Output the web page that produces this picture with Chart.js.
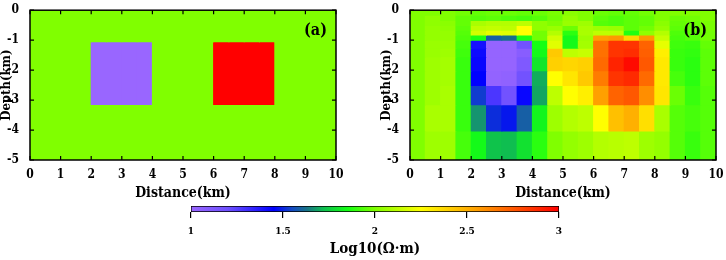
<!DOCTYPE html>
<html>
<head>
<meta charset="utf-8">
<script src="https://cdn.jsdelivr.net/npm/chart.js@4.4.1/dist/chart.umd.min.js"></script>
<style>
  html, body { margin: 0; padding: 0; background: #fff; }
  #wrap { position: relative; width: 726px; height: 260px; overflow: hidden; }
  canvas { position: absolute; }
</style>
</head>
<body>
<div id="wrap">
  <canvas id="chartA" style="left:0;top:0" width="362" height="206"></canvas>
  <canvas id="chartB" style="left:380px;top:0" width="346" height="206"></canvas>
  <canvas id="colorBar" style="left:150px;top:196px" width="450" height="64"></canvas>
</div>
<script>
// Центры столбцов сетки (км)
const distanceCenters = [0.25, 0.75, 1.25, 1.75, 2.25, 2.75, 3.25, 3.75, 4.25, 4.75,
  5.25, 5.75, 6.25, 6.75, 7.25, 7.75, 8.25, 8.75, 9.25, 9.75];

// (a) истинная модель: границы слоёв и log10(сопротивления)
const modelEdges = [0, -1.05, -3.15, -5];
const modelTop = [2, 2, 2, 2, 2, 2, 2, 2, 2, 2, 2, 2, 2, 2, 2, 2, 2, 2, 2, 2];
const modelMid = [2, 2, 2, 2, 1, 1, 1, 1, 2, 2, 2, 2, 3, 3, 3, 3, 2, 2, 2, 2];
const modelBot = [2, 2, 2, 2, 2, 2, 2, 2, 2, 2, 2, 2, 2, 2, 2, 2, 2, 2, 2, 2];

// (b) результат инверсии: границы слоёв и log10(сопротивления)
const invEdges = [0, -0.17, -0.34, -0.51, -0.67, -0.83, -1.0, -1.27, -1.55, -2.02, -2.51, -3.16, -4.03, -5.0];
const inv00 = [2.0, 2.0, 2.0, 1.98, 1.96, 1.97, 1.97, 1.96, 1.97, 1.99, 2.02, 2.0, 1.97, 1.96, 1.96, 1.98, 2.0, 2.0, 2.0, 2.0];
const inv01 = [2.0, 2.03, 2.0, 1.96, 1.94, 1.95, 1.93, 1.92, 1.94, 1.98, 2.04, 2.0, 1.95, 1.93, 1.95, 1.96, 2.0, 1.97, 1.98, 2.0];
const inv02 = [2.0, 2.03, 2.02, 1.96, 2.08, 2.1, 2.1, 2.12, 2.03, 2.0, 2.05, 2.06, 1.94, 1.93, 1.95, 1.96, 2.02, 1.96, 1.97, 1.99];
const inv03 = [2.0, 2.04, 2.03, 1.95, 2.12, 2.13, 2.12, 2.25, 2.03, 2.05, 1.97, 2.08, 2.06, 2.05, 1.95, 1.98, 2.04, 1.95, 1.96, 1.99];
const inv04 = [2.0, 2.04, 2.04, 1.94, 2.16, 2.2, 2.19, 2.25, 1.98, 2.1, 1.88, 2.08, 2.12, 2.12, 1.87, 2.03, 2.1, 1.93, 1.95, 1.98];
const inv05 = [2.0, 2.04, 2.04, 1.93, 1.86, 1.59, 1.62, 1.86, 1.98, 2.16, 1.84, 2.06, 2.55, 2.57, 2.38, 2.57, 2.14, 1.92, 1.94, 1.98];
const inv06 = [2.0, 2.05, 2.05, 1.92, 1.4, 1.02, 1.02, 1.18, 1.85, 2.19, 1.84, 2.07, 2.68, 2.85, 2.85, 2.72, 2.2, 1.91, 1.9, 1.96];
const inv07 = [2.0, 2.05, 2.06, 1.91, 1.42, 1.02, 1.02, 1.08, 1.84, 2.42, 2.12, 2.14, 2.68, 2.85, 2.87, 2.73, 2.3, 1.9, 1.89, 1.95];
const inv08 = [2.0, 2.06, 2.07, 1.9, 1.43, 1.02, 1.02, 1.12, 1.8, 2.4, 2.38, 2.4, 2.7, 2.9, 2.97, 2.75, 2.32, 1.9, 1.88, 1.95];
const inv09 = [2.0, 2.06, 2.07, 1.9, 1.45, 1.03, 1.04, 1.18, 1.7, 2.25, 2.33, 2.42, 2.65, 2.85, 2.88, 2.7, 2.32, 1.92, 1.88, 1.95];
const inv10 = [2.0, 2.06, 2.08, 1.9, 1.53, 1.28, 1.18, 1.43, 1.69, 2.12, 2.25, 2.3, 2.55, 2.72, 2.75, 2.6, 2.33, 1.97, 1.9, 1.94];
const inv11 = [2.0, 2.08, 2.08, 1.9, 1.67, 1.51, 1.48, 1.59, 1.83, 2.06, 2.1, 2.12, 2.25, 2.45, 2.5, 2.35, 2.08, 1.94, 1.92, 1.94];
const inv12 = [2.0, 2.06, 2.06, 1.92, 1.84, 1.73, 1.72, 1.79, 1.88, 2.0, 2.04, 2.06, 2.1, 2.11, 2.12, 2.06, 2.04, 1.94, 1.9, 1.94];

// Шкала цвета
const cmapValues = [1.0, 1.2, 1.45, 1.55, 1.63, 1.72, 1.85, 2.0, 2.25, 2.55, 2.8, 3.0];
const cmapColors = [[153, 102, 255], [110, 80, 255], [0, 0, 255], [20, 75, 195], [25, 115, 135], [15, 190, 80],
  [20, 255, 20], [128, 255, 0], [255, 255, 0], [255, 160, 0], [255, 70, 0], [255, 0, 0]];
const colorBarTicks = [1, 1.5, 2, 2.5, 3];

const FONT = "'DejaVu Serif Condensed', 'DejaVu Serif', serif";
Chart.defaults.font.family = FONT;
Chart.defaults.font.weight = 'bold';
Chart.defaults.color = '#000';

function rgb(c) {
  return `rgb(${Math.round(c[0])}, ${Math.round(c[1])}, ${Math.round(c[2])})`;
}

// Цвет по значению log10(rho)
function toColor(v) {
  if (v <= cmapValues[0]) return rgb(cmapColors[0]);
  for (let i = 1; i < cmapValues.length; i++) {
    if (v <= cmapValues[i]) {
      const t = (v - cmapValues[i - 1]) / (cmapValues[i] - cmapValues[i - 1]);
      const a = cmapColors[i - 1], b = cmapColors[i];
      return rgb([a[0] + (b[0] - a[0]) * t, a[1] + (b[1] - a[1]) * t, a[2] + (b[2] - a[2]) * t]);
    }
  }
  return rgb(cmapColors[cmapColors.length - 1]);
}

// Каждый слой — набор плавающих столбцов
function buildDatasets(edges, rows) {
  return rows.map((vals, r) => ({
    data: distanceCenters.map((x) => ({ x, y: [edges[r + 1], edges[r]] })),
    backgroundColor: vals.map(toColor),
    borderWidth: 0,
    grouped: false,
    barPercentage: 1,
    categoryPercentage: 1,
    inflateAmount: 0.5,
  }));
}

// Рамка, внутренние засечки и подпись панели
const frameTicks = {
  id: 'frameTicks',
  afterDatasetsDraw(chart, args, opts) {
    const { ctx, chartArea: a, scales: { x, y } } = chart;
    const len = 4;
    ctx.save();
    ctx.strokeStyle = '#000';
    ctx.lineWidth = 1.2;
    ctx.beginPath();
    x.ticks.forEach((t) => {
      const px = x.getPixelForValue(t.value);
      ctx.moveTo(px, a.top); ctx.lineTo(px, a.top + len);
      ctx.moveTo(px, a.bottom); ctx.lineTo(px, a.bottom - len);
    });
    y.ticks.forEach((t) => {
      const py = y.getPixelForValue(t.value);
      ctx.moveTo(a.left, py); ctx.lineTo(a.left + len, py);
      ctx.moveTo(a.right, py); ctx.lineTo(a.right - len, py);
    });
    ctx.stroke();
    ctx.lineWidth = 1.5;
    ctx.strokeRect(a.left, a.top, a.right - a.left, a.bottom - a.top);
    ctx.font = `bold 16px ${FONT}`;
    ctx.fillStyle = '#000';
    ctx.textAlign = 'right';
    ctx.textBaseline = 'middle';
    ctx.fillText(opts.tag, a.right - 9, a.top + 21);
    ctx.restore();
  },
};

function renderPanel(canvasId, datasets, tag, rightPad) {
  const ctx = document.getElementById(canvasId).getContext('2d');
  return new Chart(ctx, {
    type: 'bar',
    data: { datasets },
    options: {
      responsive: false,
      animation: false,
      layout: { padding: { top: 6, right: rightPad, left: 0, bottom: 0 } },
      plugins: { legend: { display: false }, tooltip: { enabled: false }, frameTicks: { tag } },
      scales: {
        x: {
          type: 'linear',
          min: 0,
          max: 10,
          offset: false,
          grid: { display: false, offset: false },
          border: { display: false },
          ticks: { stepSize: 1, autoSkip: false, maxRotation: 0, padding: 0, font: { size: 12 } },
          title: { display: true, text: 'Distance(km)', font: { size: 14, lineHeight: 1 }, padding: { top: 0, bottom: 6 } },
          afterFit: (s) => { s.height = 46; },
        },
        y: {
          type: 'linear',
          min: -5,
          max: 0,
          grid: { display: false },
          border: { display: false },
          ticks: { stepSize: 1, padding: 3, font: { size: 12 }, callback: (v) => String(v) },
          title: { display: true, text: 'Depth(km)', font: { size: 13, lineHeight: 1 }, padding: { top: 0.5, bottom: 0 } },
          afterFit: (s) => { s.width = 30; },
        },
      },
    },
    plugins: [frameTicks],
  });
}

renderPanel('chartA', buildDatasets(modelEdges, [modelTop, modelMid, modelBot]), '(a)', 26);
renderPanel('chartB', buildDatasets(invEdges,
  [inv00, inv01, inv02, inv03, inv04, inv05, inv06, inv07, inv08, inv09, inv10, inv11, inv12]), '(b)', 10);

// Цветовая шкала
new Chart(document.getElementById('colorBar').getContext('2d'), {
  type: 'bar',
  data: {
    labels: ['bar'],
    datasets: [{
      data: [[colorBarTicks[0], colorBarTicks[colorBarTicks.length - 1]]],
      backgroundColor: (c) => {
        const chart = c.chart;
        if (!chart.chartArea) return null;
        const xs = chart.scales.x;
        const v0 = cmapValues[0];
        const v1 = cmapValues[cmapValues.length - 1];
        const g = chart.ctx.createLinearGradient(xs.getPixelForValue(v0), 0, xs.getPixelForValue(v1), 0);
        cmapValues.forEach((v, i) => g.addColorStop((v - v0) / (v1 - v0), rgb(cmapColors[i])));
        return g;
      },
      borderColor: '#000',
      borderWidth: 1,
      borderSkipped: false,
      barPercentage: 1,
      categoryPercentage: 1,
    }],
  },
  options: {
    indexAxis: 'y',
    responsive: false,
    animation: false,
    layout: { padding: { top: 10, right: 41, left: 41, bottom: 0 } },
    plugins: { legend: { display: false }, tooltip: { enabled: false } },
    scales: {
      x: {
        type: 'linear',
        min: 1,
        max: 3,
        grid: { drawOnChartArea: false, drawTicks: true, tickLength: 6, tickColor: '#000', lineWidth: 1.2 },
        border: { display: false },
        ticks: { stepSize: 0.5, autoSkip: false, maxRotation: 0, padding: 7, font: { size: 10 }, callback: (v) => String(v) },
        title: { display: true, text: 'Log10(Ω·m)', font: { size: 15, lineHeight: 1 }, padding: { top: 0, bottom: 3 } },
        afterFit: (s) => { s.height = 48; },
      },
      y: { display: false },
    },
  },
});
</script>
</body>
</html>
